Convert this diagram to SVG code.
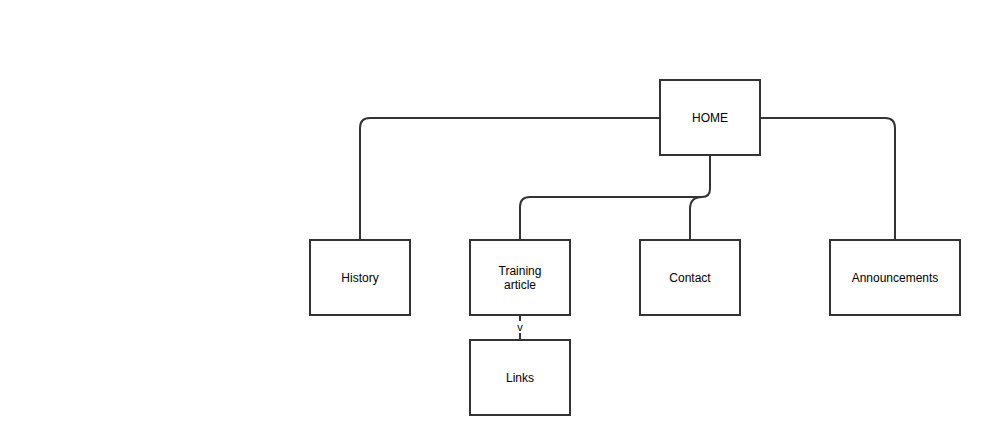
<svg xmlns="http://www.w3.org/2000/svg" width="985" height="435" viewBox="0 0 985 435">
<style>
.node rect{fill:#fff;stroke:#333;stroke-width:2}
.node text{font-family:"Liberation Sans",Arial,sans-serif;font-size:12px;fill:#000;text-anchor:middle}
.edge{fill:none;stroke:#333;stroke-width:2}
.lbl{font-family:"Liberation Sans",Arial,sans-serif;font-size:11px;fill:#000;text-anchor:middle}
</style>
<rect width="985" height="435" fill="#fff"/>
<g id="connectors">
<path class="edge" d="M660 118 H370 Q360 118 360 128 V240"/>
<path class="edge" d="M760 118 H885 Q895 118 895 128 V240"/>
<path class="edge" d="M710 155 V189 Q710 197 702 197 H530 Q520 197 520 207 V240"/>
<path class="edge" d="M702 197 Q690 197 690 209 V240"/>
<path class="edge" d="M520 315 V321 M520 333 V340"/>
<text class="lbl" x="520" y="331">v</text>
</g>
<g id="home" class="node"><rect x="660" y="80" width="100" height="75"/><text x="710" y="122">HOME</text></g>
<g id="history" class="node"><rect x="310" y="240" width="100" height="75"/><text x="360" y="282">History</text></g>
<g id="training" class="node"><rect x="470" y="240" width="100" height="75"/><text x="520" y="275">Training</text><text x="520" y="289">article</text></g>
<g id="contact" class="node"><rect x="640" y="240" width="100" height="75"/><text x="690" y="282">Contact</text></g>
<g id="announcements" class="node"><rect x="830" y="240" width="130" height="75"/><text x="895" y="282">Announcements</text></g>
<g id="links" class="node"><rect x="470" y="340" width="100" height="75"/><text x="520" y="382">Links</text></g>
</svg>
